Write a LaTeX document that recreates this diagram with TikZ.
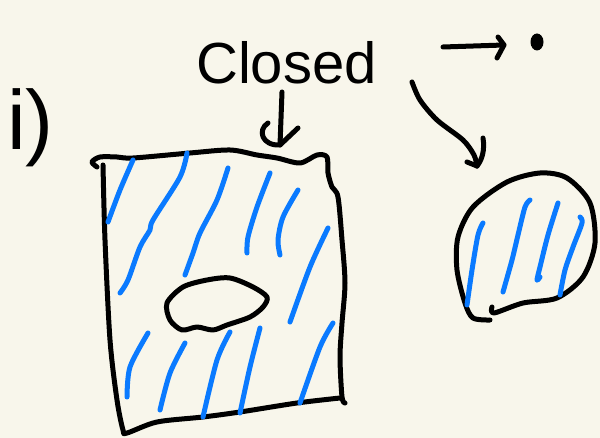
\documentclass[tikz,border=0pt]{standalone}
\usepackage{fontspec}
\setmainfont{Liberation Sans}
\definecolor{bg}{RGB}{248,246,235}
\definecolor{ink}{RGB}{10,122,255}
\begin{document}
\begin{tikzpicture}[x=1pt,y=-1pt,
  blk/.style={draw=black,line width=5pt,line cap=round,line join=round},
  hatch/.style={draw=ink,line width=5pt,line cap=round,line join=round},
  lbl/.style={inner sep=0pt,anchor=base west,text=black}]
\fill[bg] (0,0) rectangle (600,438);
\useasboundingbox (0,0) rectangle (600,438);

% labels
\node[lbl,font=\fontsize{84}{86}\selectfont] (item) at (7,150) {i)};
\node[lbl,font=\fontsize{58}{60}\selectfont] (closed) at (196,84) {Closed};

% arrow Closed -> square
\coordinate (cl) at (282,92);
\coordinate (sq) at (280,145);
\draw[blk] (cl) -- (sq);
\draw[blk] (268,123) .. controls (257,130) and (262,146) .. (sq) -- (298,128);

% straight arrow -> point
\coordinate (ra) at (443,47);
\coordinate (rb) at (504,45);
\draw[blk] (ra) -- (rb);
\draw[blk] (498,37) -- (rb) -- (497,58);
\fill[black] (537,42) ellipse (6.5 and 8.5);

% curved arrow -> blob
\coordinate (ca) at (412,82);
\coordinate (cb) at (477,166);
\draw[blk] plot[smooth] coordinates {(412,82) (420,100) (437,120) (463,140) (474,155) (cb)};
\draw[blk] (467,162) -- (cb);
\draw[blk] (483,138) .. controls (485,150) and (482,160) .. (cb);

% square outline
\draw[blk] plot[smooth] coordinates {(97,167) (92,162) (100,157) (117,157) (133,158) (190,153) (230,150) (257,155) (277,158) (300,163) (317,155) (327,157) (328,173) (332,187) (338,197) (342,240) (345,283) (342,323) (340,357) (342,397) (345,403)};
\draw[blk] plot[smooth] coordinates {(340,398) (297,403) (240,412) (203,417) (157,422) (127,433) (123,430) (117,400) (110,340) (105,240) (103,165)};

% hole
\draw[blk] plot[smooth cycle] coordinates {(167,303) (183,287) (207,280) (230,278) (253,287) (267,297) (263,307) (250,317) (227,325) (213,330) (197,327) (182,330) (170,320)};

% hatching in square
\draw[hatch] plot[smooth] coordinates {(133,160) (120,190) (108,222)};
\draw[hatch] plot[smooth] coordinates {(187,153) (180,177) (153,220) (150,230) (140,247) (128,280) (120,293)};
\draw[hatch] plot[smooth] coordinates {(228,168) (217,200) (200,233) (193,253) (185,275)};
\draw[hatch] plot[smooth] coordinates {(270,173) (257,207) (248,237) (247,253)};
\draw[hatch] plot[smooth] coordinates {(298,190) (283,217) (278,240) (280,255)};
\draw[hatch] plot[smooth] coordinates {(328,228) (310,267) (290,322)};
\draw[hatch] plot[smooth] coordinates {(148,333) (130,367) (127,397)};
\draw[hatch] plot[smooth] coordinates {(185,343) (170,373) (160,410)};
\draw[hatch] plot[smooth] coordinates {(230,332) (217,360) (203,417)};
\draw[hatch] plot[smooth] coordinates {(260,328) (250,367) (240,413)};
\draw[hatch] plot[smooth] coordinates {(333,323) (320,347) (300,403)};

% blob outline
\draw[blk] plot[smooth] coordinates {(492,307) (494,313) (523,303) (557,298) (583,277) (595,243) (590,203) (567,178) (540,173) (507,182) (473,207) (458,237) (457,270) (465,303) (473,318) (490,320)};

% hatching in blob
\draw[hatch] plot[smooth] coordinates {(483,223) (478,235) (472,270) (467,305)};
\draw[hatch] plot[smooth] coordinates {(530,200) (525,207) (518,235) (512,260) (503,292)};
\draw[hatch] plot[smooth] coordinates {(558,203) (548,235) (540,267) (537,280) (540,277)};
\draw[hatch] plot[smooth] coordinates {(580,217) (582,223) (573,247) (565,270) (560,295)};
\end{tikzpicture}
\end{document}
